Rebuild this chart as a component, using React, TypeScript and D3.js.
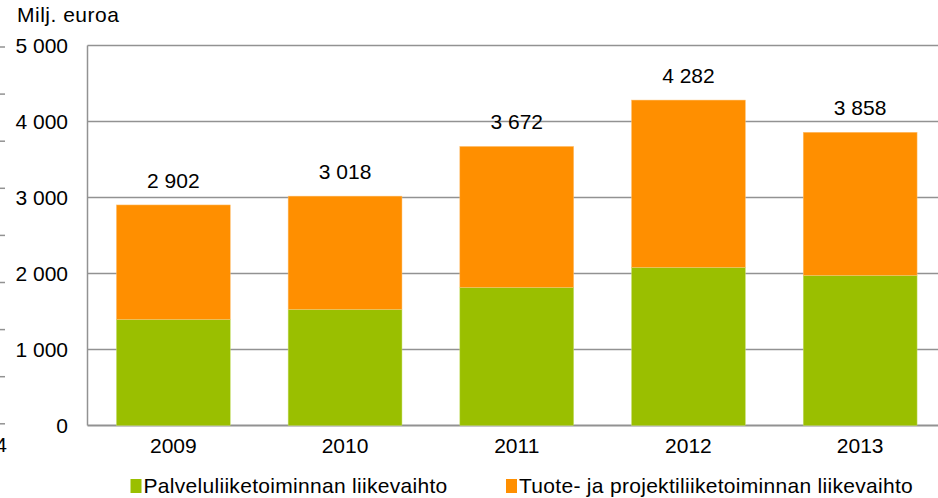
import React from "react";
import * as d3 from "d3";

const years = ["2009", "2010", "2011", "2012", "2013"];
const palvelu = [1397, 1529, 1818, 2082, 1976];
const totals = [2902, 3018, 3672, 4282, 3858];
const tuote = totals.map((t, i) => t - palvelu[i]);
const yTicks = [0, 1000, 2000, 3000, 4000, 5000];
const seriesNames = ["Palveluliiketoiminnan liikevaihto", "Tuote- ja projektiliiketoiminnan liikevaihto"];
const colors = ["#9ABF00", "#FF8F00"];

const W = 938;
const H = 498;
const FONT = "'Liberation Sans', Arial, sans-serif";

const fmt = d3.formatLocale({ decimal: ",", thousands: " ", grouping: [3], currency: ["", "€"] }).format(",d");

export default function App() {
  const x = d3.scaleBand<string>().domain(years).range([87.5, 946]).paddingInner(0.337).paddingOuter(0.1685);
  const y = d3.scaleLinear().domain([0, 5000]).range([425.5, 45.5]);
  const stack = d3.stack<any>().keys(["p", "t"])(years.map((yr, i) => ({ yr, p: palvelu[i], t: tuote[i] })));
  const artTicks = d3.range(9).map((i) => 47 + i * 47.1);
  const grid = "#929292";
  const fs = 21;

  return (
    <svg width={W} height={H} style={{ position: "absolute", left: 0, top: 0, background: "#fff" }} fontFamily={FONT}>
      {artTicks.map((v, i) => (
        <line key={"a" + i} x1={0} x2={5} y1={v} y2={v} stroke={grid} strokeWidth={1.5} />
      ))}
      <text x={7} y={452} fontSize={fs} textAnchor="end" fill="#000">4</text>
      <text x={17} y={22} fontSize={fs} fill="#000" letterSpacing={0.5}>Milj. euroa</text>
      {yTicks.map((t) => (
        <g key={t}>
          <line x1={87.5} x2={W} y1={y(t)} y2={y(t)} stroke={grid} strokeWidth={t === 0 ? 2 : 1.5} />
          <text x={68} y={y(t) + 7.5} fontSize={fs} textAnchor="end" fill="#000">{fmt(t)}</text>
        </g>
      ))}
      <line x1={87.5} x2={87.5} y1={y(5000)} y2={y(0)} stroke={grid} strokeWidth={1.5} />
      {stack.map((s, si) =>
        s.map((d, i) => (
          <rect key={si + "-" + i} x={x(years[i])!} width={x.bandwidth()} y={y(d[1])} height={y(d[0]) - y(d[1])}
            fill={colors[si]} stroke={si === 0 ? "#C8E070" : "#FFC070"} strokeWidth={0.5} />
        ))
      )}
      {years.map((yr, i) => (
        <text key={"l" + yr} x={x(yr)! + x.bandwidth() / 2} y={y(totals[i]) - 17} fontSize={fs} textAnchor="middle" fill="#000">
          {fmt(totals[i])}
        </text>
      ))}
      {years.map((yr) => (
        <text key={"x" + yr} x={x(yr)! + x.bandwidth() / 2} y={452.5} fontSize={fs} textAnchor="middle" fill="#000">{yr}</text>
      ))}
      {seriesNames.map((n, i) => {
        const lx = i === 0 ? 130.5 : 506;
        return (
          <g key={n}>
            <rect x={lx} y={479} width={11} height={14} fill={colors[i]} />
            <text x={lx + 13} y={492.5} fontSize={fs} fill="#000" letterSpacing={0.3}>{n}</text>
          </g>
        );
      })}
    </svg>
  );
}
